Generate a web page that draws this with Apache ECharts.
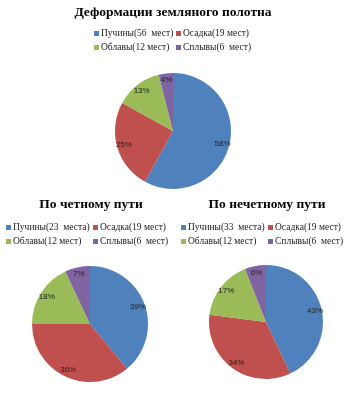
<!DOCTYPE html>
<html>
<head>
<meta charset="utf-8">
<script src="https://cdn.jsdelivr.net/npm/echarts@6/dist/echarts.min.js"></script>
<style>
  html, body { margin: 0; padding: 0; background: #fff; }
  #chart { width: 350px; height: 393px; }
</style>
</head>
<body>
<div id="chart"></div>
<script>
// Slice colours: heave, settlement, collapse, slide
const sliceColors = ['#4F81BD', '#C0504D', '#9BBB59', '#8064A2'];

// Whole subgrade
const totalTitle = 'Деформации земляного полотна';
const totalNames = ['Пучины(56  мест)', 'Осадка(19 мест)', 'Облавы(12 мест)', 'Сплывы(6  мест)'];
const totalShares = [58, 25, 13, 4];

// Even track
const evenTitle = 'По четному пути';
const evenNames = ['Пучины(23  места)', 'Осадка(19 мест)', 'Облавы(12 мест)', 'Сплывы(6  мест)'];
const evenShares = [39, 36, 18, 7];

// Odd track
const oddTitle = 'По нечетному пути';
const oddNames = ['Пучины(33  места)', 'Осадка(19 мест)', 'Облавы(12 мест)', 'Сплывы(6  мест)'];
const oddShares = [43, 34, 17, 6];

const serif = '"Liberation Serif", "Times New Roman", serif';

function pieSeries(names, shares, center, r) {
  const data = names.map((n, i) => ({ name: n, value: shares[i], itemStyle: { color: sliceColors[i] } }));
  return [
    {
      type: 'pie', center: center, radius: [0, r], silent: true,
      startAngle: 90, clockwise: true,
      label: { show: false }, labelLine: { show: false },
      data: data
    },
    {
      // transparent ring that carries the percentage labels
      type: 'pie', center: center, radius: [r * 0.66, r], silent: true,
      startAngle: 90, clockwise: true,
      itemStyle: { color: 'rgba(0,0,0,0)' },
      label: {
        show: true, position: 'inside', formatter: '{c}%',
        color: '#222', fontSize: 8, fontFamily: '"Liberation Sans", Arial, sans-serif'
      },
      labelLine: { show: false },
      data: names.map((n, i) => ({ name: n, value: shares[i], itemStyle: { color: 'rgba(0,0,0,0)' } }))
    }
  ];
}

function legendColumn(names, left, top) {
  return {
    orient: 'vertical', left: left, top: top,
    itemWidth: 5, itemHeight: 5, itemGap: 3, icon: 'rect',
    selectedMode: false,
    textStyle: { fontFamily: serif, fontSize: 9.5, color: '#222', lineHeight: 11, padding: [0, 0, 0, -3] },
    padding: 0,
    data: names
  };
}

function titleAt(text, x, y) {
  return {
    text: text, left: x, top: y, textAlign: 'center', padding: 0,
    textStyle: { fontFamily: serif, fontSize: 13.5, fontWeight: 'bold', color: '#000' }
  };
}

const chart = echarts.init(document.getElementById('chart'), null, { renderer: 'canvas' });
chart.setOption({
  backgroundColor: '#fff',
  animation: false,
  title: [
    titleAt(totalTitle, 173, 6),
    titleAt(evenTitle, 91, 198),
    titleAt(oddTitle, 267, 198)
  ],
  legend: [
    legendColumn([totalNames[0], totalNames[2]], 94, 28),
    legendColumn([totalNames[1], totalNames[3]], 176, 28),
    legendColumn([evenNames[0], evenNames[2]], 6, 222),
    legendColumn([evenNames[1], evenNames[3]], 93, 222),
    legendColumn([oddNames[0], oddNames[2]], 181, 222),
    legendColumn([oddNames[1], oddNames[3]], 268, 222)
  ],
  series: [].concat(
    pieSeries(totalNames, totalShares, [173, 131], 58),
    pieSeries(evenNames, evenShares, [90, 324], 58),
    pieSeries(oddNames, oddShares, [266, 322], 57)
  )
});
</script>
</body>
</html>
